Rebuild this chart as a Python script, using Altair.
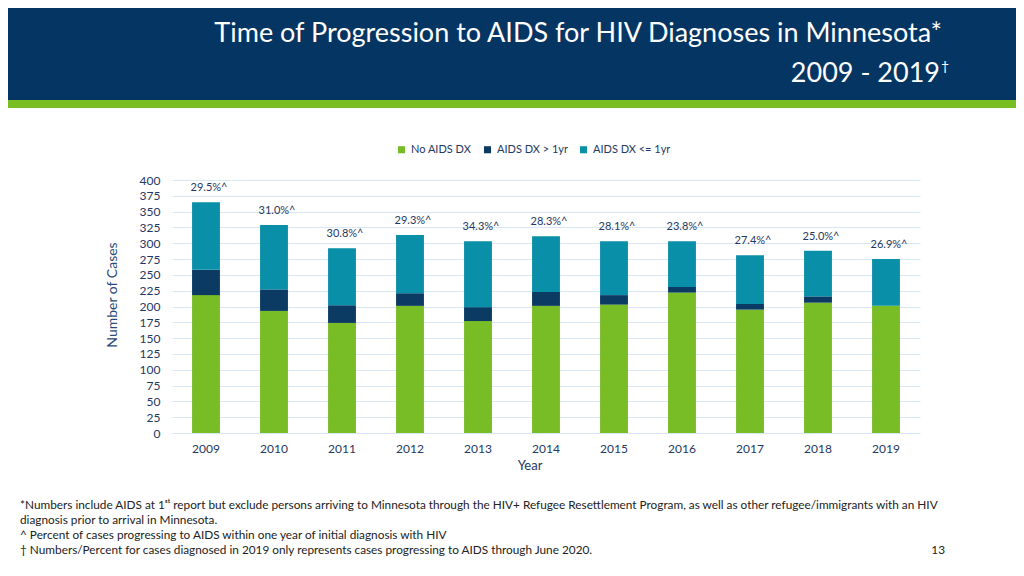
import altair as alt
import pandas as pd

years = ["2009", "2010", "2011", "2012", "2013", "2014", "2015", "2016", "2017", "2018", "2019"]
no_aids = [218, 193, 174, 201, 177, 201, 203, 222, 195, 206, 201]
aids_gt1 = [40, 34, 28, 20, 22, 22, 15, 9, 9, 10, 0]
aids_le1 = [107, 102, 90, 92, 104, 88, 85, 72, 77, 72, 74]
pct_labels = ["29.5%^", "31.0%^", "30.8%^", "29.3%^", "34.3%^", "28.3%^",
              "28.1%^", "23.8%^", "27.4%^", "25.0%^", "26.9%^"]
series = ["No AIDS DX", "AIDS DX > 1yr", "AIDS DX <= 1yr"]
colors = ["#78bc26", "#0b3a63", "#0a8fa8"]
y_ticks = list(range(0, 401, 25))

title_line1 = "Time of Progression to AIDS for HIV Diagnoses in Minnesota*"
title_line2 = "2009 - 2019"
footnotes = [
    "*Numbers include AIDS at 1ˢᵗ report but exclude persons arriving to Minnesota through the HIV+ Refugee Resettlement Program, as well as other refugee/immigrants with an HIV",
    "diagnosis prior to arrival in Minnesota.",
    "^ Percent of cases progressing to AIDS within one year of initial diagnosis with HIV",
    "† Numbers/Percent for cases diagnosed in 2019 only represents cases progressing to AIDS through June 2020.",
]
page_number = "13"

rows = []
for i, y in enumerate(years):
    for k, (s, vals) in enumerate(zip(series, [no_aids, aids_gt1, aids_le1])):
        rows.append({"Year": y, "Series": s, "Cases": vals[i], "order": k})
df = pd.DataFrame(rows)
tot = pd.DataFrame({
    "Year": years,
    "Total": [a + b + c for a, b, c in zip(no_aids, aids_gt1, aids_le1)],
    "Label": pct_labels,
})

FONT = "Lato"
TXT = "#1f3864"

xscale = alt.Scale(paddingInner=0.59, paddingOuter=0.295)
yscale = alt.Scale(domain=[0, 400])
xaxis = alt.Axis(title=None, labelAngle=0, labelFont=FONT, labelFontSize=12,
                 labelColor=TXT, labelPadding=10, ticks=False, domain=False)
yaxis = alt.Axis(title=None, values=y_ticks, labelFont=FONT, labelFontSize=12,
                 labelColor=TXT, labelPadding=12, ticks=False, domain=False,
                 grid=True, gridColor="#d8e7f4", gridWidth=1)

bars = alt.Chart(df).mark_bar().encode(
    x=alt.X("Year:N", scale=xscale, sort=years, axis=xaxis),
    y=alt.Y("Cases:Q", stack="zero", scale=yscale, axis=yaxis),
    color=alt.Color("Series:N", scale=alt.Scale(domain=series, range=colors),
                    legend=alt.Legend(orient="none", legendX=224, legendY=-36,
                                      direction="horizontal", title=None,
                                      symbolType="square", symbolSize=50,
                                      symbolStrokeWidth=0, labelFont=FONT,
                                      labelFontSize=11, labelColor=TXT,
                                      columnPadding=10)),
    order=alt.Order("order:Q", sort="ascending"),
)

labels = alt.Chart(tot).mark_text(font=FONT, fontSize=11, color=TXT, dy=-14, dx=3).encode(
    x=alt.X("Year:N", scale=xscale, sort=years, axis=xaxis),
    y=alt.Y("Total:Q", scale=yscale, axis=yaxis),
    text="Label:N",
)

one = pd.DataFrame({"a": [0]})
header = alt.Chart(one).mark_rect(color="#053563").encode(
    x=alt.value(-180), x2=alt.value(860), y=alt.value(-190), y2=alt.value(-80))
stripe = alt.Chart(one).mark_rect(color="#78be20").encode(
    x=alt.value(-180), x2=alt.value(860), y=alt.value(-80), y2=alt.value(-72))


def text_layer(t, x, y, **kw):
    return alt.Chart(pd.DataFrame({"t": [t]})).mark_text(**kw).encode(
        text="t:N", x=alt.value(x), y=alt.value(y))


t1 = text_layer(title_line1, 770, -138, font=FONT, fontSize=27, color="white",
                align="right", baseline="alphabetic")
t2 = text_layer(title_line2, 768, -98, font=FONT, fontSize=27, color="white",
                align="right", baseline="alphabetic")
t2d = text_layer("†", 769, -109, font=FONT, fontSize=14, color="white",
                 align="left", baseline="alphabetic")

ytitle = text_layer("Number of Cases", -59, 115, font=FONT, fontSize=14, color="#2b4a78",
                    angle=270, align="center", baseline="middle")
xtitle = text_layer("Year", 358, 286, font=FONT, fontSize=13, color=TXT,
                    align="center", baseline="middle")

foot_layers = [
    text_layer(f, -152, 325 + 15 * i, font=FONT, fontSize=11.8, color="#222222",
               align="left", baseline="middle")
    for i, f in enumerate(footnotes)
]
pnum = text_layer(page_number, 773, 370, font=FONT, fontSize=11.8, color="#222222",
                  align="right", baseline="middle")

chart = alt.layer(header, stripe, t1, t2, t2d, bars, labels, ytitle, xtitle,
                  *foot_layers, pnum).properties(
    width=748, height=253,
    autosize=alt.AutoSizeParams(type="none"),
    padding={"left": 164, "top": 172, "right": 96, "bottom": 135},
).configure(background="white").configure_view(stroke=None)

chart.save("out.html", embed_options={"renderer": "svg", "actions": False})
